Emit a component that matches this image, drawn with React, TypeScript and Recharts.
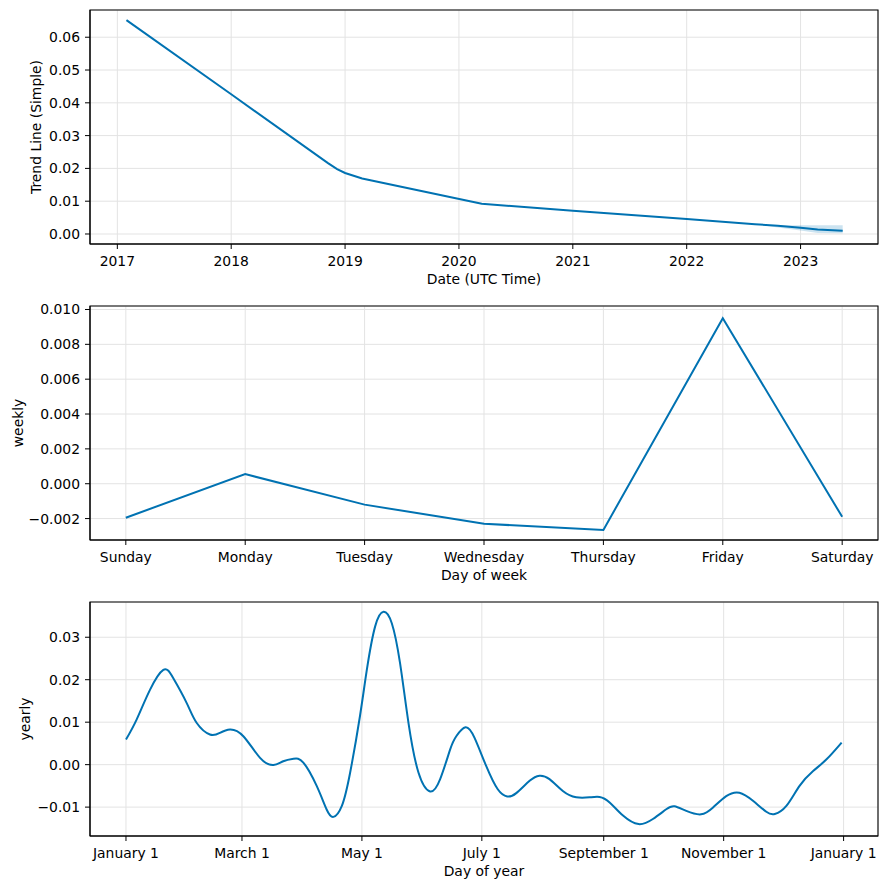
import React from 'react';
import {
  ComposedChart,
  LineChart,
  Line,
  Area,
  XAxis,
  YAxis,
  CartesianGrid,
  ReferenceArea,
} from 'recharts';

// trend panel (x = decimal year)
const trendYears = [2017.08, 2018.0, 2018.85, 2018.93, 2019.0, 2019.15, 2020.2, 2021.0, 2022.0, 2022.6, 2022.8, 2023.0, 2023.15, 2023.37];
const trendValues = [0.0652, 0.0426, 0.0216, 0.0198, 0.0186, 0.0169, 0.0092, 0.0071, 0.0046, 0.003, 0.0025, 0.0019, 0.0014, 0.001];
const trendLower = [null, null, null, null, null, null, null, null, null, 0.003, 0.002, 0.0011, 0.0003, 0.0002];
const trendUpper = [null, null, null, null, null, null, null, null, null, 0.003, 0.0026, 0.0027, 0.0027, 0.0027];
const trendTicksX = [2017, 2018, 2019, 2020, 2021, 2022, 2023];
const trendTicksY = [0, 0.01, 0.02, 0.03, 0.04, 0.05, 0.06];

// weekly panel
const weekDays = ['Sunday', 'Monday', 'Tuesday', 'Wednesday', 'Thursday', 'Friday', 'Saturday'];
const weeklyValues = [-0.00195, 0.00055, -0.0012, -0.0023, -0.00265, 0.0095, -0.0019];
const weeklyTicksY = [-0.002, 0, 0.002, 0.004, 0.006, 0.008, 0.01];

// yearly panel (x = day of year)
const yearDays = [
  0, 5.4, 12.2, 19, 24, 30.9, 36, 42.7, 47.8, 52.9, 59.7, 68.2, 75, 80, 85.2, 90.2, 97, 102, 105.5,
  109.8, 114, 119, 122.5, 126.7, 131, 135.2, 139.4, 143.7, 148.8, 154.7, 159.8, 164.9, 168, 172.7,
  177.3, 183.2, 189.1, 193.9, 198.5, 205.3, 210.3, 215.4, 222.2, 229, 235.8, 240.9, 246, 252.8,
  260.7, 268, 274.8, 279, 285, 292.5, 298.6, 305.3, 312, 318.9, 325.7, 330, 335.9, 342.6, 349.5,
  356.2, 364,
];
const yearlyValues = [
  0.0059, 0.0106, 0.0176, 0.0223, 0.0204, 0.0145, 0.0098, 0.0071, 0.0075, 0.0083, 0.0067, 0.0016,
  -0.0001, 0.0008, 0.0014, 0.0005, -0.005, -0.0105, -0.0123, -0.0097, -0.0019, 0.0114, 0.0223,
  0.0325, 0.036, 0.0333, 0.0239, 0.0098, -0.0019, -0.0063, -0.0034, 0.0036, 0.0067, 0.0088, 0.0063,
  -0.0003, -0.0058, -0.0075, -0.0067, -0.0038, -0.0026, -0.0034, -0.0062, -0.0077, -0.0077,
  -0.0076, -0.0089, -0.012, -0.014, -0.0128, -0.0105, -0.0098, -0.0109, -0.0117, -0.0101, -0.0074,
  -0.0066, -0.0085, -0.0111, -0.0116, -0.0097, -0.005, -0.0015, 0.0012, 0.0052,
];
const yearTicksX = [0, 59, 120, 181, 243, 304, 365];
const yearTickLabels = ['January 1', 'March 1', 'May 1', 'July 1', 'September 1', 'November 1', 'January 1'];
const yearlyTicksY = [-0.01, 0, 0.01, 0.02, 0.03];

const BLUE = '#0072B2';
const FONT = 13.9;
const W = 886;
const H = 296;
const margin = { top: 10, right: 8, bottom: 0, left: 0 };
const tickStyle = { fill: '#000', fontSize: FONT };
const gridColor = '#e3e3e3';

const fmt = (digits: number) => (v: number) =>
  v < 0 ? '\u2212' + Math.abs(v).toFixed(digits) : v.toFixed(digits);

const trendData = trendYears.map((x, i) => ({
  x,
  trend: trendValues[i],
  band: trendLower[i] == null ? undefined : [trendLower[i], trendUpper[i]],
}));
const weeklyData = weeklyValues.map((v, i) => ({ x: i, weekly: v }));
const yearlyData = yearDays.map((x, i) => ({ x, yearly: yearlyValues[i] }));

const trendX: [number, number] = [2016.76, 2023.68];
const trendY: [number, number] = [-0.00305, 0.0683];
const weekX: [number, number] = [-0.3, 6.3];
const weekY: [number, number] = [-0.00323, 0.0102];
const yearX: [number, number] = [-18.3, 382.5];
const yearY: [number, number] = [-0.0168, 0.0383];

const xAxisProps = {
  type: 'number' as const,
  height: 52,
  tickSize: 5,
  tickMargin: 7,
  tick: tickStyle,
  tickLine: { stroke: '#000' },
  axisLine: { stroke: '#000' },
  allowDataOverflow: true,
  interval: 0 as const,
};
const yAxisProps = {
  type: 'number' as const,
  width: 90,
  tickSize: 5,
  tickMargin: 5,
  tick: tickStyle,
  tickLine: { stroke: '#000' },
  axisLine: { stroke: '#000' },
  allowDataOverflow: true,
  interval: 0 as const,
};

const xLabel = (value: string) => ({ value, position: 'insideBottom' as const, offset: 12, fill: '#000', fontSize: FONT });
const yLabel = (value: string, dx: number) => ({ value, angle: -90, position: 'center' as const, dx, fill: '#000', fontSize: FONT });

export default function App() {
  return (
    <div style={{ position: 'absolute', left: 0, top: 0, width: W, height: 889, background: '#fff', fontFamily: '"DejaVu Sans", sans-serif' }}>
      <div style={{ position: 'absolute', left: 0, top: 0 }}>
        <ComposedChart width={W} height={H} data={trendData} margin={margin}>
          <CartesianGrid stroke={gridColor} strokeWidth={1} />
          <XAxis {...xAxisProps} dataKey="x" domain={trendX} ticks={trendTicksX} label={xLabel('Date (UTC Time)')} />
          <YAxis {...yAxisProps} domain={trendY} ticks={trendTicksY} tickFormatter={fmt(2)} label={yLabel('Trend Line (Simple)', -9)} />
          <Area dataKey="band" stroke="none" fill={BLUE} fillOpacity={0.2} isAnimationActive={false} />
          <Line dataKey="trend" type="linear" stroke={BLUE} strokeWidth={2} dot={false} isAnimationActive={false} />
          <ReferenceArea x1={trendX[0]} x2={trendX[1]} y1={trendY[0]} y2={trendY[1]} fill="none" stroke="#000" strokeWidth={1.1} />
        </ComposedChart>
      </div>
      <div style={{ position: 'absolute', left: 0, top: 296 }}>
        <LineChart width={W} height={H} data={weeklyData} margin={margin}>
          <CartesianGrid stroke={gridColor} strokeWidth={1} />
          <XAxis
            {...xAxisProps}
            dataKey="x"
            domain={weekX}
            ticks={[0, 1, 2, 3, 4, 5, 6]}
            tickFormatter={(v: number) => weekDays[v]}
            label={xLabel('Day of week')}
          />
          <YAxis {...yAxisProps} domain={weekY} ticks={weeklyTicksY} tickFormatter={fmt(3)} label={yLabel('weekly', -27)} />
          <Line dataKey="weekly" type="linear" stroke={BLUE} strokeWidth={2} dot={false} isAnimationActive={false} />
          <ReferenceArea x1={weekX[0]} x2={weekX[1]} y1={weekY[0]} y2={weekY[1]} fill="none" stroke="#000" strokeWidth={1.1} />
        </LineChart>
      </div>
      <div style={{ position: 'absolute', left: 0, top: 592 }}>
        <LineChart width={W} height={H} data={yearlyData} margin={margin}>
          <CartesianGrid stroke={gridColor} strokeWidth={1} />
          <XAxis
            {...xAxisProps}
            dataKey="x"
            domain={yearX}
            ticks={yearTicksX}
            tickFormatter={(v: number) => yearTickLabels[yearTicksX.indexOf(v)]}
            label={xLabel('Day of year')}
          />
          <YAxis {...yAxisProps} domain={yearY} ticks={yearlyTicksY} tickFormatter={fmt(2)} label={yLabel('yearly', -20)} />
          <Line dataKey="yearly" type="natural" stroke={BLUE} strokeWidth={2} dot={false} isAnimationActive={false} />
          <ReferenceArea x1={yearX[0]} x2={yearX[1]} y1={yearY[0]} y2={yearY[1]} fill="none" stroke="#000" strokeWidth={1.1} />
        </LineChart>
      </div>
    </div>
  );
}
